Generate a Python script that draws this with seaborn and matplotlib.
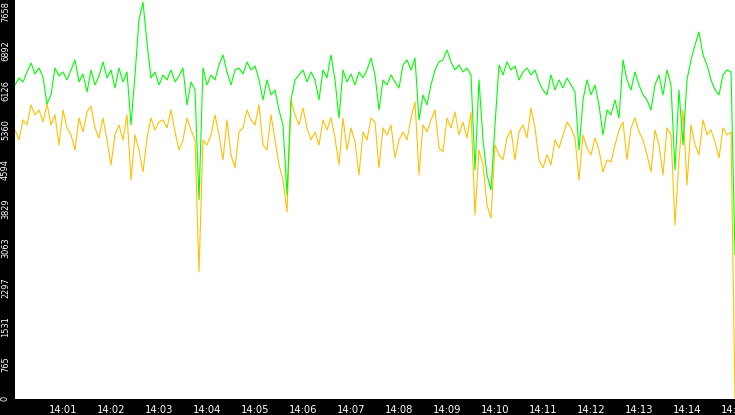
import numpy as np
import pandas as pd
import matplotlib
matplotlib.use("Agg")
import matplotlib.pyplot as plt
import matplotlib.dates as mdates
import matplotlib.transforms as mtransforms
import seaborn as sns

# samples every 5 s from 14:00:00 to 14:15:00
start_time = "2024-01-01 14:00:00"
step_seconds = 5

green_vals = [6083, 6219, 6141, 6335, 6509, 6296, 6412, 6238, 5714, 5889,
              6412, 6257, 6335, 6180, 6374, 6568, 6141, 6296, 5947, 6374,
              6083, 6257, 6529, 6219, 6374, 6025, 6412, 6141, 6335, 5307,
              6277, 7350, 7690, 6900, 6219, 6335, 6083, 6277, 6180, 6374,
              6141, 6257, 6412, 5695, 6141, 5986, 3853, 6412, 6083, 6277,
              6180, 6471, 6665, 6335, 6083, 6374, 6412, 6296, 6529, 6374,
              6451, 6180, 5792, 6180, 5889, 5986, 5598, 5307, 3950, 5792,
              6180, 6277, 6374, 6141, 6335, 6180, 5792, 6374, 6219, 6665,
              6180, 5443, 6374, 6141, 6296, 6083, 6335, 6219, 6374, 6606,
              6277, 5598, 6180, 6083, 6277, 6141, 6025, 6471, 6568, 6374,
              6606, 5404, 5889, 5695, 6083, 6374, 6529, 6568, 6761, 6529,
              6374, 6471, 6335, 6412, 6277, 4435, 6180, 5016, 4338, 4047,
              5307, 6471, 6277, 6529, 6374, 6451, 6180, 6335, 6412, 6277,
              6374, 6141, 5986, 5889, 6277, 5986, 6180, 6025, 6219, 6083,
              5947, 4822, 5792, 6180, 5889, 6083, 5695, 5113, 5598, 5501,
              5792, 5443, 6568, 6180, 5986, 6335, 6083, 5889, 5792, 5598,
              6083, 6277, 5889, 6374, 6083, 4435, 5986, 4919, 6180, 6568,
              6858, 7111, 6665, 6471, 6180, 5986, 5889, 6277, 6374, 6335,
              2787]

orange_vals = [5210, 5016, 5404, 5307, 5695, 5501, 5598, 5365, 5714, 5307,
               5501, 4919, 5598, 5249, 5113, 4822, 5443, 5172, 5559, 5676,
               5249, 5055, 5443, 5016, 4532, 5113, 5307, 5016, 5501, 4241,
               5113, 4822, 4396, 5055, 5443, 5210, 5365, 5404, 5249, 5598,
               5172, 4822, 5016, 5443, 5210, 5016, 2457, 5016, 4919, 5113,
               5501, 5113, 4629, 5404, 4726, 4473, 5172, 5249, 5598, 5404,
               5307, 5695, 4919, 4822, 5501, 5016, 4532, 4241, 3620, 5792,
               5501, 5307, 5637, 5249, 5016, 5172, 4919, 5404, 5210, 5443,
               5055, 4532, 5443, 4822, 5249, 4978, 4338, 5172, 5016, 5443,
               5365, 4473, 5249, 5113, 5307, 4667, 5016, 5172, 5016, 5443,
               5753, 4338, 5307, 5172, 5404, 5598, 4861, 4784, 5443, 5249,
               5559, 5113, 5365, 5055, 5559, 3562, 4822, 4532, 3756, 3504,
               4919, 4726, 4629, 5055, 5210, 4629, 5172, 5307, 5055, 5637,
               5249, 4629, 4473, 4726, 4532, 5016, 4861, 5113, 5365, 5249,
               5055, 4241, 5113, 4861, 4726, 5055, 4822, 4396, 4629, 4590,
               4919, 5210, 5365, 4629, 5249, 5443, 5172, 5016, 4726, 4396,
               5210, 4919, 4338, 5249, 5113, 3368, 4629, 5598, 4144, 5307,
               4919, 4726, 5404, 5113, 5210, 4978, 4667, 5249, 5113, 5172,
               0]

y_ticks = [0, 765, 1531, 2297, 3063, 3829, 4594, 5360, 6126, 6892, 7658]
y_top = 7731
x_tick_first = "2024-01-01 14:01:00"
x_tick_last = "2024-01-01 14:15:00"

times = pd.date_range(start_time, periods=len(green_vals), freq=f"{step_seconds}s")
df = pd.DataFrame({"time": times, "green": green_vals, "orange": orange_vals})

sns.set_style("white")
plt.rcParams["font.family"] = ["DejaVu Sans"]

fig = plt.figure(figsize=(7.35, 4.15), dpi=100, facecolor="black")
ax = fig.add_axes([15 / 735, 16.5 / 415, 720 / 735, 398.5 / 415])
ax.set_facecolor("white")

sns.lineplot(data=df, x="time", y="orange", color="#ffc000", linewidth=0.8, ax=ax)
sns.lineplot(data=df, x="time", y="green", color="#00ff00", linewidth=0.8, ax=ax)

ax.set_xlim(times[0], times[-1])
ax.set_ylim(0, y_top)
ax.set_xlabel("")
ax.set_ylabel("")
for s in ax.spines.values():
    s.set_visible(False)

ax.set_xticks(pd.date_range(x_tick_first, x_tick_last, freq="min"))
ax.xaxis.set_major_formatter(mdates.DateFormatter("%H:%M"))
ax.set_yticks(y_ticks)
ax.set_yticklabels([str(t) for t in y_ticks])
ax.tick_params(axis="both", colors="white", labelcolor="white",
               direction="out", width=1)
ax.tick_params(axis="x", length=4.7, pad=0.3, labelsize=7.2)
ax.tick_params(axis="y", length=3.6, pad=0, labelsize=6.6)

# rotated y labels sit just under their tick, reading upwards
shift_up = mtransforms.ScaledTranslation(0, 2.2 / 72, fig.dpi_scale_trans)
for lab in ax.get_yticklabels():
    lab.set_rotation(90)
    lab.set_va("top")
    lab.set_ha("right")
    lab.set_fontstretch("condensed")
    lab.set_transform(lab.get_transform() + shift_up)

fig.savefig("out.png", dpi=100, facecolor="black")
